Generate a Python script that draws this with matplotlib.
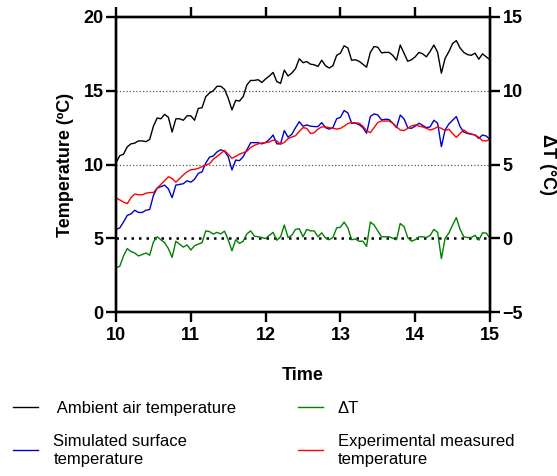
import numpy as np
import matplotlib
matplotlib.use('Agg')
import matplotlib.pyplot as plt
from matplotlib.ticker import MultipleLocator

plt.rcParams['font.family'] = ['Liberation Sans', 'DejaVu Sans']

# readings every 3 min (0.05 h) from 10 to 15
time = np.linspace(10, 15, 101)

ambient = [10.1, 10.6, 10.7, 11.2, 11.4, 11.45, 11.6, 11.6, 11.55, 11.7,
           12.6, 13.15, 13.1, 13.4, 13.2, 12.2, 13.1, 13.1, 13.0, 13.3,
           13.3, 13.0, 13.8, 13.85, 14.6, 14.85, 15.0, 15.3, 15.3, 15.1,
           14.5, 13.7, 14.35, 14.3, 14.6, 15.4, 15.7, 15.7, 15.75, 15.56,
           15.8, 16.0, 16.24, 15.62, 15.5, 16.4, 16.0, 16.2, 16.5, 17.17,
           16.9, 16.98, 16.8, 16.76, 16.65, 17.07, 16.7, 16.54, 16.7, 17.4,
           17.55, 18.05, 17.9, 17.07, 17.1, 17.0, 16.8, 16.6, 17.6, 18.0,
           17.95, 17.57, 17.6, 17.6, 17.4, 17.07, 18.1, 17.55, 17.0, 17.1,
           17.3, 17.6, 17.5, 17.3, 17.67, 18.1, 17.6, 16.19, 17.2, 17.65,
           18.2, 18.4, 17.9, 17.6, 17.45, 17.4, 17.55, 17.14, 17.5, 17.3,
           17.1]

simulated = [5.6, 5.7, 6.1, 6.55, 6.65, 6.9, 6.75, 6.75, 6.9, 6.95,
             7.9, 8.4, 8.5, 8.6, 8.35, 7.75, 8.6, 8.65, 8.7, 8.9,
             8.8, 9.0, 9.4, 9.5, 10.1, 10.5, 10.58, 10.85, 11.0, 10.9,
             10.53, 9.63, 10.3, 10.26, 10.53, 11.0, 11.48, 11.48, 11.48, 11.4,
             11.5, 11.7, 12.0, 11.4, 11.4, 12.3, 11.85, 12.05, 12.5, 12.9,
             12.6, 12.68, 12.6, 12.57, 12.57, 12.84, 12.5, 12.4, 12.5, 13.1,
             13.2, 13.66, 13.5, 12.8, 12.8, 12.7, 12.5, 12.12, 13.25, 13.43,
             13.36, 13.02, 13.07, 13.05, 12.8, 12.5, 13.35, 13.1, 12.5, 12.45,
             12.6, 12.8, 12.65, 12.5, 12.55, 13.0, 12.8, 11.21, 12.34, 12.75,
             13.0, 13.25, 12.57, 12.2, 12.1, 12.05, 12.0, 11.77, 12.0, 11.93,
             11.7]

measured = [7.75, 7.6, 7.45, 7.35, 7.75, 8.0, 7.95, 7.95, 8.05, 8.1,
            8.1, 8.4, 8.65, 8.9, 9.17, 9.05, 8.8, 9.05, 9.3, 9.5,
            9.65, 9.67, 9.74, 9.85, 9.97, 10.05, 10.35, 10.55, 10.75, 10.95,
            10.7, 10.42, 10.55, 10.7, 10.8, 10.9, 11.15, 11.3, 11.4, 11.46,
            11.48, 11.53, 11.65, 11.6, 11.38, 11.5, 11.75, 11.86, 11.95, 12.25,
            12.5, 12.45, 12.1, 12.15, 12.4, 12.55, 12.55, 12.5, 12.46, 12.4,
            12.45, 12.6, 12.78, 12.84, 12.82, 12.8, 12.6, 12.3, 12.16, 12.5,
            12.85, 12.95, 12.95, 12.95, 12.8, 12.55, 12.34, 12.3, 12.45, 12.62,
            12.68, 12.6, 12.55, 12.45, 12.34, 12.42, 12.55, 12.45, 12.3, 12.39,
            12.1, 11.84, 12.1, 12.34, 12.15, 12.07, 12.0, 11.85, 11.61, 11.6,
            11.7]

delta_t = [-2.0, -1.9, -1.2, -0.7, -0.9, -1.0, -1.2, -1.1, -1.0, -1.15,
           -0.25, 0.1, -0.1, -0.3, -0.7, -1.3, -0.2, -0.4, -0.6, -0.45,
           -0.8, -0.5, -0.4, -0.3, 0.5, 0.45, 0.28, 0.4, 0.3, 0.48,
           -0.1, -0.85, -0.1, -0.35, -0.2, 0.3, 0.5, 0.14, 0.1, 0.05,
           -0.02, 0.2, 0.4, -0.13, 0.1, 0.9, 0.05, 0.2, 0.6, 0.65,
           0.1, 0.6, 0.5, 0.5, 0.1, 0.37, 0.03, -0.1, 0.05, 0.7,
           0.75, 1.1, 0.7, -0.1, -0.05, -0.2, -0.2, -0.55, 1.1, 0.9,
           0.5, 0.1, 0.1, 0.1, 0.0, -0.1, 1.0, 0.8, 0.05, -0.2,
           -0.1, 0.1, 0.1, 0.05, 0.2, 0.6, 0.4, -1.38, 0.0, 0.35,
           0.9, 1.4, 0.6, 0.1, 0.05, 0.05, 0.2, -0.13, 0.37, 0.35,
           0.0]

fig = plt.figure(figsize=(5.57, 4.76), dpi=100)
ax = fig.add_axes([0.2083, 0.3445, 0.6714, 0.6198])
ax2 = ax.twinx()

for y in [10, 15]:
    ax.axhline(y, color='0.35', ls=':', lw=0.9, zorder=0)
ax2.axhline(0, color='black', ls=(0, (1, 2)), lw=1.8, zorder=1)

l1, = ax.plot(time, ambient, color='black', lw=1.0)
l2, = ax.plot(time, simulated, color='#0000cc', lw=1.0)
l4, = ax.plot(time, measured, color='#ff0000', lw=1.0)
l3, = ax2.plot(time, delta_t, color='#008000', lw=1.0)

ax.set_xlim(10, 15)
ax.set_ylim(0, 20)
ax2.set_ylim(-5, 15)
ax.xaxis.set_major_locator(MultipleLocator(1))
ax.yaxis.set_major_locator(MultipleLocator(5))
ax2.yaxis.set_major_locator(MultipleLocator(5))

for a in (ax, ax2):
    for s in a.spines.values():
        s.set_linewidth(1.7)
    a.tick_params(direction='out', length=7, width=1.7, labelsize=13, pad=2)
ax.tick_params(axis='x', top=True, labeltop=False, pad=4)
for lab in ax.get_xticklabels() + ax.get_yticklabels() + ax2.get_yticklabels():
    lab.set_fontweight('bold')

ax.set_xlabel('Time', fontsize=13, fontweight='bold', labelpad=16)
ax.set_ylabel('Temperature (ºC)', fontsize=13, fontweight='bold', labelpad=7)
ax2.set_ylabel('ΔT (°C)', fontsize=13, fontweight='bold', rotation=270, labelpad=24)

fig.legend(handles=[l1, l2, l3, l4],
           labels=[' Ambient air temperature', 'Simulated surface\ntemperature',
                   'ΔT', 'Experimental measured\ntemperature'],
           ncol=2, loc='upper left', bbox_to_anchor=(0.0, 0.186), frameon=False,
           fontsize=12, handlelength=1.5, handletextpad=0.9, columnspacing=3.7,
           labelspacing=1.1, borderpad=0.3)

fig.savefig('out.png', dpi=100)
